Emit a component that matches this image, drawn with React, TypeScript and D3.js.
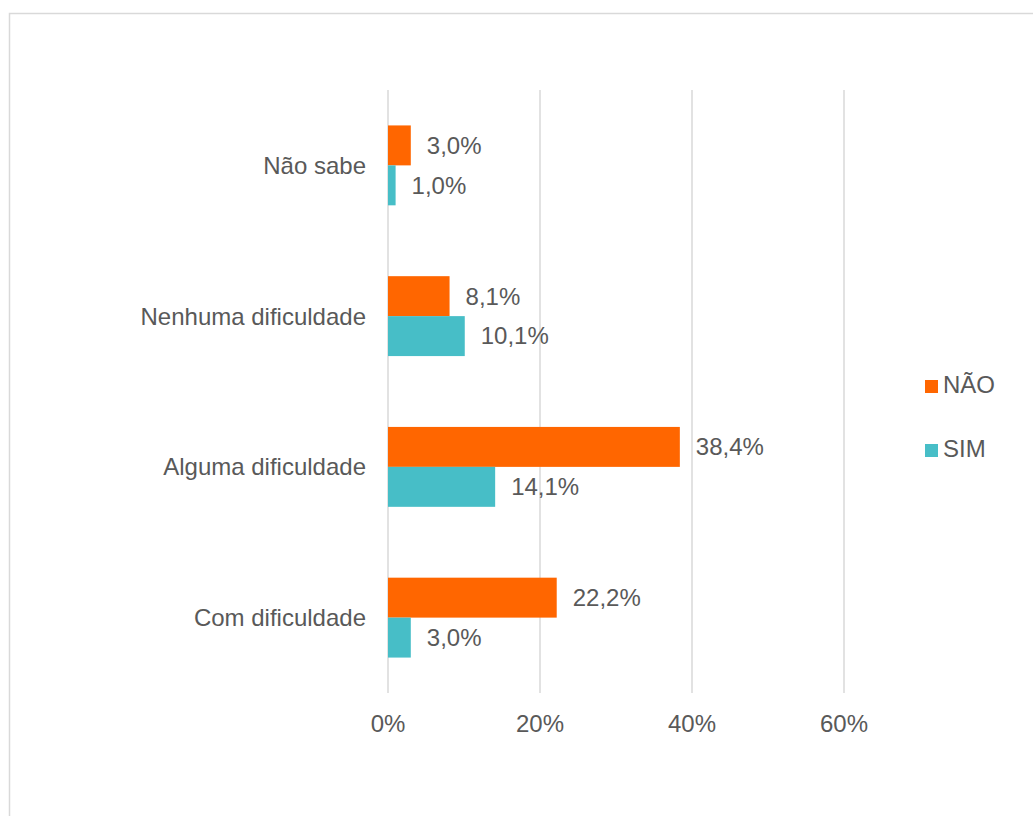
import React from "react";
import * as d3 from "d3";

const categories = ["Não sabe", "Nenhuma dificuldade", "Alguma dificuldade", "Com dificuldade"];
const seriesNames = ["NÃO", "SIM"];
const naoValues = [3.0, 8.1, 38.4, 22.2];
const simValues = [1.0, 10.1, 14.1, 3.0];
const xTicks = [0, 20, 40, 60];
const colors = ["#FF6600", "#47BEC7"];

const W = 1033;
const H = 816;
const FONT = "'Liberation Sans', Arial, sans-serif";
const FS = 24;
const TEXT = "#595959";

export default function App() {
  const x = d3.scaleLinear().domain([0, 60]).range([388, 844]);
  const y = d3.scaleBand<string>().domain(categories).range([90, 693]).paddingInner(0.47).paddingOuter(0.235);
  const sub = d3.scaleBand<string>().domain(seriesNames).range([0, y.bandwidth()]).padding(0);
  const values = [naoValues, simValues];
  const fmt = (v: number) => v.toFixed(1).replace(".", ",") + "%";

  return (
    <svg width={W} height={H} style={{ position: "absolute", left: 0, top: 0, background: "#fff" }} fontFamily={FONT}>
      <rect x={9.5} y={13.5} width={W + 20} height={H + 20} fill="#fff" stroke="#D9D9D9" strokeWidth={1.5} />
      {xTicks.map((t) => (
        <g key={t}>
          <line x1={x(t)} x2={x(t)} y1={90} y2={693} stroke="#D9D9D9" strokeWidth={1.5} />
          <text x={x(t)} y={731.5} textAnchor="middle" fontSize={FS} fill={TEXT}>{t}%</text>
        </g>
      ))}
      {categories.map((c, i) => (
        <g key={c}>
          <text x={366} y={(y(c) ?? 0) + y.bandwidth() / 2} dy="0.35em" textAnchor="end" fontSize={FS} fill={TEXT}>{c}</text>
          {seriesNames.map((s, j) => {
            const v = values[j][i];
            const by = (y(c) ?? 0) + (sub(s) ?? 0);
            return (
              <g key={s}>
                <rect x={x(0)} y={by} width={x(v) - x(0)} height={sub.bandwidth()} fill={colors[j]} />
                <text x={x(v) + 16} y={by + sub.bandwidth() / 2} dy="0.35em" fontSize={FS} fill={TEXT}>{fmt(v)}</text>
              </g>
            );
          })}
        </g>
      ))}
      {seriesNames.map((s, j) => (
        <g key={s}>
          <rect x={925} y={380 + j * 64} width={13} height={13} fill={colors[j]} />
          <text x={943} y={393 + j * 64} fontSize={FS} fill={TEXT}>{s}</text>
        </g>
      ))}
    </svg>
  );
}
